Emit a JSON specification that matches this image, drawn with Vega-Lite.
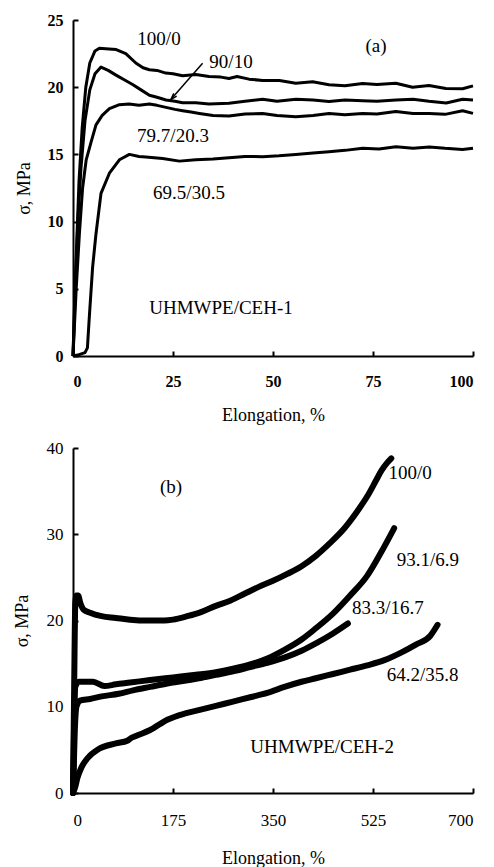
{
  "$schema": "https://vega.github.io/schema/vega-lite/v6.json",
  "background": "white",
  "padding": {"left": 13, "top": 12, "right": 5, "bottom": 5},
  "spacing": 92,
  "bounds": "flush",
  "config": {
    "view": {"stroke": null},
    "font": "Liberation Serif, DejaVu Serif, serif",
    "text": {"font": "Liberation Serif, DejaVu Serif, serif"},
    "axis": {
      "grid": false,
      "domainColor": "black",
      "domainWidth": 2,
      "tickColor": "black",
      "tickWidth": 2,
      "tickSize": -5,
      "labelColor": "black",
      "labelFont": "Liberation Serif, DejaVu Serif, serif",
      "titleColor": "black",
      "titleFont": "Liberation Serif, DejaVu Serif, serif",
      "titleFontWeight": "normal",
      "titleFontSize": 18
    }
  },
  "datasets": {
    "top": [
      {"s": "100/0", "x": 0, "y": 0}, {"s": "100/0", "x": 0.5, "y": 5}, {"s": "100/0", "x": 1, "y": 9}, {"s": "100/0", "x": 1.5, "y": 13}, {"s": "100/0", "x": 2.3, "y": 17}, {"s": "100/0", "x": 3.2, "y": 20}, {"s": "100/0", "x": 4.2, "y": 21.8}, {"s": "100/0", "x": 5.5, "y": 22.7}, {"s": "100/0", "x": 6.6, "y": 22.9}, {"s": "100/0", "x": 9, "y": 22.85}, {"s": "100/0", "x": 10.8, "y": 22.8}, {"s": "100/0", "x": 13.2, "y": 22.5}, {"s": "100/0", "x": 15.7, "y": 21.8}, {"s": "100/0", "x": 17.5, "y": 21.45}, {"s": "100/0", "x": 19.1, "y": 21.3}, {"s": "100/0", "x": 21, "y": 21.25}, {"s": "100/0", "x": 23.2, "y": 21.05}, {"s": "100/0", "x": 25, "y": 21.0}, {"s": "100/0", "x": 27.4, "y": 20.85}, {"s": "100/0", "x": 30.7, "y": 20.95}, {"s": "100/0", "x": 34, "y": 20.8}, {"s": "100/0", "x": 37, "y": 20.75}, {"s": "100/0", "x": 39, "y": 20.65}, {"s": "100/0", "x": 41, "y": 20.8}, {"s": "100/0", "x": 44, "y": 20.6}, {"s": "100/0", "x": 47.4, "y": 20.5}, {"s": "100/0", "x": 51.6, "y": 20.5}, {"s": "100/0", "x": 55.7, "y": 20.3}, {"s": "100/0", "x": 59.9, "y": 20.4}, {"s": "100/0", "x": 64, "y": 20.18}, {"s": "100/0", "x": 68, "y": 20.1}, {"s": "100/0", "x": 72.4, "y": 20.28}, {"s": "100/0", "x": 76, "y": 20.2}, {"s": "100/0", "x": 80.7, "y": 20.3}, {"s": "100/0", "x": 84.9, "y": 20.0}, {"s": "100/0", "x": 89, "y": 20.12}, {"s": "100/0", "x": 93.2, "y": 19.9}, {"s": "100/0", "x": 97.4, "y": 19.88}, {"s": "100/0", "x": 100, "y": 20.1},
      {"s": "90/10", "x": 0, "y": 0}, {"s": "90/10", "x": 0.6, "y": 5}, {"s": "90/10", "x": 1.2, "y": 10}, {"s": "90/10", "x": 2, "y": 14}, {"s": "90/10", "x": 3, "y": 17.5}, {"s": "90/10", "x": 4.2, "y": 19.8}, {"s": "90/10", "x": 5.5, "y": 21.0}, {"s": "90/10", "x": 7, "y": 21.5}, {"s": "90/10", "x": 8.8, "y": 21.25}, {"s": "90/10", "x": 10.75, "y": 20.9}, {"s": "90/10", "x": 12.8, "y": 20.55}, {"s": "90/10", "x": 14.9, "y": 20.2}, {"s": "90/10", "x": 17, "y": 19.8}, {"s": "90/10", "x": 19.1, "y": 19.4}, {"s": "90/10", "x": 21, "y": 19.25}, {"s": "90/10", "x": 23.25, "y": 19.05}, {"s": "90/10", "x": 25.5, "y": 18.95}, {"s": "90/10", "x": 27.4, "y": 18.85}, {"s": "90/10", "x": 30.7, "y": 18.85}, {"s": "90/10", "x": 34, "y": 18.75}, {"s": "90/10", "x": 39, "y": 18.8}, {"s": "90/10", "x": 43, "y": 18.95}, {"s": "90/10", "x": 47.4, "y": 19.1}, {"s": "90/10", "x": 51, "y": 18.95}, {"s": "90/10", "x": 55.75, "y": 19.1}, {"s": "90/10", "x": 60, "y": 19.05}, {"s": "90/10", "x": 64, "y": 18.93}, {"s": "90/10", "x": 68, "y": 19.05}, {"s": "90/10", "x": 72.4, "y": 19.0}, {"s": "90/10", "x": 76, "y": 18.95}, {"s": "90/10", "x": 80.75, "y": 19.05}, {"s": "90/10", "x": 85, "y": 19.1}, {"s": "90/10", "x": 89, "y": 18.95}, {"s": "90/10", "x": 93.3, "y": 18.82}, {"s": "90/10", "x": 97.4, "y": 19.1}, {"s": "90/10", "x": 100, "y": 19.05},
      {"s": "79.7/20.3", "x": 0, "y": 0}, {"s": "79.7/20.3", "x": 0.8, "y": 5}, {"s": "79.7/20.3", "x": 1.6, "y": 9.1}, {"s": "79.7/20.3", "x": 2.4, "y": 12.5}, {"s": "79.7/20.3", "x": 3.3, "y": 14.6}, {"s": "79.7/20.3", "x": 4.5, "y": 15.9}, {"s": "79.7/20.3", "x": 5.75, "y": 17.2}, {"s": "79.7/20.3", "x": 7.3, "y": 17.9}, {"s": "79.7/20.3", "x": 9.1, "y": 18.4}, {"s": "79.7/20.3", "x": 11.6, "y": 18.7}, {"s": "79.7/20.3", "x": 14, "y": 18.75}, {"s": "79.7/20.3", "x": 16.5, "y": 18.65}, {"s": "79.7/20.3", "x": 19.1, "y": 18.75}, {"s": "79.7/20.3", "x": 21, "y": 18.65}, {"s": "79.7/20.3", "x": 23.25, "y": 18.5}, {"s": "79.7/20.3", "x": 25.5, "y": 18.35}, {"s": "79.7/20.3", "x": 27.4, "y": 18.25}, {"s": "79.7/20.3", "x": 29.5, "y": 18.15}, {"s": "79.7/20.3", "x": 31.6, "y": 18.05}, {"s": "79.7/20.3", "x": 35, "y": 17.9}, {"s": "79.7/20.3", "x": 39, "y": 17.85}, {"s": "79.7/20.3", "x": 43, "y": 18.0}, {"s": "79.7/20.3", "x": 47.4, "y": 18.05}, {"s": "79.7/20.3", "x": 51, "y": 17.9}, {"s": "79.7/20.3", "x": 55.7, "y": 17.8}, {"s": "79.7/20.3", "x": 60, "y": 17.9}, {"s": "79.7/20.3", "x": 64, "y": 18.05}, {"s": "79.7/20.3", "x": 68, "y": 17.95}, {"s": "79.7/20.3", "x": 72.4, "y": 18.05}, {"s": "79.7/20.3", "x": 76, "y": 18.0}, {"s": "79.7/20.3", "x": 80.7, "y": 18.2}, {"s": "79.7/20.3", "x": 85, "y": 18.05}, {"s": "79.7/20.3", "x": 89, "y": 18.05}, {"s": "79.7/20.3", "x": 93, "y": 17.98}, {"s": "79.7/20.3", "x": 97.4, "y": 18.25}, {"s": "79.7/20.3", "x": 100, "y": 18.05},
      {"s": "69.5/30.5", "x": 0, "y": 0}, {"s": "69.5/30.5", "x": 1.5, "y": 0.1}, {"s": "69.5/30.5", "x": 3.0, "y": 0.25}, {"s": "69.5/30.5", "x": 3.6, "y": 0.6}, {"s": "69.5/30.5", "x": 4.1, "y": 3}, {"s": "69.5/30.5", "x": 4.9, "y": 6.6}, {"s": "69.5/30.5", "x": 5.75, "y": 9.1}, {"s": "69.5/30.5", "x": 7, "y": 12.1}, {"s": "69.5/30.5", "x": 9.1, "y": 13.6}, {"s": "69.5/30.5", "x": 11.6, "y": 14.6}, {"s": "69.5/30.5", "x": 14.1, "y": 15.0}, {"s": "69.5/30.5", "x": 16.5, "y": 14.85}, {"s": "69.5/30.5", "x": 18.2, "y": 14.8}, {"s": "69.5/30.5", "x": 22.4, "y": 14.7}, {"s": "69.5/30.5", "x": 26.6, "y": 14.5}, {"s": "69.5/30.5", "x": 30.7, "y": 14.6}, {"s": "69.5/30.5", "x": 35, "y": 14.65}, {"s": "69.5/30.5", "x": 39, "y": 14.75}, {"s": "69.5/30.5", "x": 43, "y": 14.85}, {"s": "69.5/30.5", "x": 47.4, "y": 14.83}, {"s": "69.5/30.5", "x": 51.5, "y": 14.9}, {"s": "69.5/30.5", "x": 55.7, "y": 15.0}, {"s": "69.5/30.5", "x": 60, "y": 15.1}, {"s": "69.5/30.5", "x": 64, "y": 15.2}, {"s": "69.5/30.5", "x": 68, "y": 15.3}, {"s": "69.5/30.5", "x": 72.4, "y": 15.45}, {"s": "69.5/30.5", "x": 76.5, "y": 15.4}, {"s": "69.5/30.5", "x": 80.75, "y": 15.57}, {"s": "69.5/30.5", "x": 85, "y": 15.45}, {"s": "69.5/30.5", "x": 89.1, "y": 15.55}, {"s": "69.5/30.5", "x": 93, "y": 15.45}, {"s": "69.5/30.5", "x": 97.4, "y": 15.37}, {"s": "69.5/30.5", "x": 100, "y": 15.45}
    ],
    "topLab": [
      {"x": 21.5, "y": 23.6, "t": "100/0"},
      {"x": 75.75, "y": 23.1, "t": "(a)"},
      {"x": 39.5, "y": 21.9, "t": "90/10"},
      {"x": 25, "y": 16.4, "t": "79.7/20.3"},
      {"x": 29, "y": 12.1, "t": "69.5/30.5"},
      {"x": 37, "y": 3.6, "t": "UHMWPE/CEH-1"}
    ],
    "arrow": [
      {"x": 32.4, "y": 21.78, "p": "start"},
      {"x": 24.5, "y": 19.1, "p": "tip"}
    ],
    "bot": [
      {"s": "100/0", "x": 0, "y": 0}, {"s": "100/0", "x": 2, "y": 12}, {"s": "100/0", "x": 4, "y": 22}, {"s": "100/0", "x": 6, "y": 22.9}, {"s": "100/0", "x": 9, "y": 22.9}, {"s": "100/0", "x": 13, "y": 22.0}, {"s": "100/0", "x": 18, "y": 21.3}, {"s": "100/0", "x": 30, "y": 20.9}, {"s": "100/0", "x": 50, "y": 20.5}, {"s": "100/0", "x": 75, "y": 20.3}, {"s": "100/0", "x": 100, "y": 20.1}, {"s": "100/0", "x": 130, "y": 20.0}, {"s": "100/0", "x": 160, "y": 20.0}, {"s": "100/0", "x": 175, "y": 20.1}, {"s": "100/0", "x": 200, "y": 20.5}, {"s": "100/0", "x": 225, "y": 21.0}, {"s": "100/0", "x": 250, "y": 21.7}, {"s": "100/0", "x": 275, "y": 22.3}, {"s": "100/0", "x": 300, "y": 23.1}, {"s": "100/0", "x": 325, "y": 23.9}, {"s": "100/0", "x": 350, "y": 24.6}, {"s": "100/0", "x": 375, "y": 25.4}, {"s": "100/0", "x": 400, "y": 26.3}, {"s": "100/0", "x": 425, "y": 27.5}, {"s": "100/0", "x": 450, "y": 29.0}, {"s": "100/0", "x": 475, "y": 30.7}, {"s": "100/0", "x": 500, "y": 32.9}, {"s": "100/0", "x": 515, "y": 34.4}, {"s": "100/0", "x": 530, "y": 36.2}, {"s": "100/0", "x": 540, "y": 37.4}, {"s": "100/0", "x": 550, "y": 38.3}, {"s": "100/0", "x": 557, "y": 38.8},
      {"s": "93.1/6.9", "x": 0, "y": 0}, {"s": "93.1/6.9", "x": 2, "y": 8}, {"s": "93.1/6.9", "x": 4, "y": 12.3}, {"s": "93.1/6.9", "x": 10, "y": 12.9}, {"s": "93.1/6.9", "x": 35, "y": 12.9}, {"s": "93.1/6.9", "x": 55, "y": 12.4}, {"s": "93.1/6.9", "x": 75, "y": 12.6}, {"s": "93.1/6.9", "x": 100, "y": 12.8}, {"s": "93.1/6.9", "x": 135, "y": 13.1}, {"s": "93.1/6.9", "x": 175, "y": 13.4}, {"s": "93.1/6.9", "x": 215, "y": 13.7}, {"s": "93.1/6.9", "x": 250, "y": 14.0}, {"s": "93.1/6.9", "x": 280, "y": 14.4}, {"s": "93.1/6.9", "x": 310, "y": 14.9}, {"s": "93.1/6.9", "x": 340, "y": 15.6}, {"s": "93.1/6.9", "x": 370, "y": 16.6}, {"s": "93.1/6.9", "x": 400, "y": 17.8}, {"s": "93.1/6.9", "x": 425, "y": 19.1}, {"s": "93.1/6.9", "x": 455, "y": 20.8}, {"s": "93.1/6.9", "x": 485, "y": 22.9}, {"s": "93.1/6.9", "x": 515, "y": 25.2}, {"s": "93.1/6.9", "x": 540, "y": 28.0}, {"s": "93.1/6.9", "x": 562, "y": 30.7},
      {"s": "83.3/16.7", "x": 0, "y": 0}, {"s": "83.3/16.7", "x": 3, "y": 7}, {"s": "83.3/16.7", "x": 6, "y": 10.0}, {"s": "83.3/16.7", "x": 12, "y": 10.7}, {"s": "83.3/16.7", "x": 30, "y": 10.9}, {"s": "83.3/16.7", "x": 50, "y": 11.2}, {"s": "83.3/16.7", "x": 80, "y": 11.5}, {"s": "83.3/16.7", "x": 105, "y": 11.9}, {"s": "83.3/16.7", "x": 135, "y": 12.3}, {"s": "83.3/16.7", "x": 165, "y": 12.7}, {"s": "83.3/16.7", "x": 195, "y": 13.0}, {"s": "83.3/16.7", "x": 220, "y": 13.3}, {"s": "83.3/16.7", "x": 250, "y": 13.7}, {"s": "83.3/16.7", "x": 280, "y": 14.1}, {"s": "83.3/16.7", "x": 310, "y": 14.6}, {"s": "83.3/16.7", "x": 340, "y": 15.1}, {"s": "83.3/16.7", "x": 370, "y": 15.7}, {"s": "83.3/16.7", "x": 400, "y": 16.5}, {"s": "83.3/16.7", "x": 425, "y": 17.35}, {"s": "83.3/16.7", "x": 455, "y": 18.5}, {"s": "83.3/16.7", "x": 481, "y": 19.65},
      {"s": "64.2/35.8", "x": 0, "y": 0}, {"s": "64.2/35.8", "x": 3, "y": 0.5}, {"s": "64.2/35.8", "x": 8, "y": 1.8}, {"s": "64.2/35.8", "x": 15, "y": 3.0}, {"s": "64.2/35.8", "x": 25, "y": 4.0}, {"s": "64.2/35.8", "x": 45, "y": 5.1}, {"s": "64.2/35.8", "x": 75, "y": 5.75}, {"s": "64.2/35.8", "x": 95, "y": 6.06}, {"s": "64.2/35.8", "x": 100, "y": 6.3}, {"s": "64.2/35.8", "x": 110, "y": 6.6}, {"s": "64.2/35.8", "x": 135, "y": 7.3}, {"s": "64.2/35.8", "x": 165, "y": 8.5}, {"s": "64.2/35.8", "x": 195, "y": 9.2}, {"s": "64.2/35.8", "x": 220, "y": 9.6}, {"s": "64.2/35.8", "x": 250, "y": 10.1}, {"s": "64.2/35.8", "x": 280, "y": 10.6}, {"s": "64.2/35.8", "x": 310, "y": 11.1}, {"s": "64.2/35.8", "x": 340, "y": 11.6}, {"s": "64.2/35.8", "x": 370, "y": 12.3}, {"s": "64.2/35.8", "x": 400, "y": 12.9}, {"s": "64.2/35.8", "x": 425, "y": 13.3}, {"s": "64.2/35.8", "x": 455, "y": 13.8}, {"s": "64.2/35.8", "x": 485, "y": 14.3}, {"s": "64.2/35.8", "x": 515, "y": 14.8}, {"s": "64.2/35.8", "x": 545, "y": 15.4}, {"s": "64.2/35.8", "x": 575, "y": 16.3}, {"s": "64.2/35.8", "x": 600, "y": 17.2}, {"s": "64.2/35.8", "x": 625, "y": 18.2}, {"s": "64.2/35.8", "x": 638, "y": 19.5}
    ],
    "botLab": [
      {"x": 590, "y": 37.1, "t": "100/0"},
      {"x": 171.5, "y": 35.5, "t": "(b)"},
      {"x": 621, "y": 27.0, "t": "93.1/6.9"},
      {"x": 551, "y": 21.4, "t": "83.3/16.7"},
      {"x": 612, "y": 13.7, "t": "64.2/35.8"},
      {"x": 436, "y": 5.3, "t": "UHMWPE/CEH-2"}
    ]
  },
  "vconcat": [
    {
      "width": 400,
      "height": 336,
      "layer": [
        {
          "data": {"name": "top"},
          "mark": {"type": "line", "color": "black", "strokeWidth": 3, "strokeJoin": "round"},
          "encoding": {
            "x": {"field": "x", "type": "quantitative", "scale": {"domain": [0, 100], "nice": false},
              "axis": {"values": [0, 25, 50, 75, 100], "title": "Elongation, %", "labelFontWeight": "bold", "labelFontSize": 16, "labelPadding": 22, "titlePadding": 17}},
            "y": {"field": "y", "type": "quantitative", "scale": {"domain": [0, 25], "nice": false},
              "axis": {"values": [0, 5, 10, 15, 20, 25], "title": "σ, MPa", "labelFontWeight": "bold", "labelFontSize": 16, "labelPadding": 15, "titlePadding": 14}},
            "detail": {"field": "s"}
          }
        },
        {
          "data": {"name": "topLab"},
          "mark": {"type": "text", "font": "Liberation Serif, DejaVu Serif, serif", "fontSize": 19, "color": "black"},
          "encoding": {
            "x": {"field": "x", "type": "quantitative"},
            "y": {"field": "y", "type": "quantitative"},
            "text": {"field": "t"}
          }
        },
        {
          "data": {"name": "arrow"},
          "mark": {"type": "line", "color": "black", "strokeWidth": 1.5},
          "encoding": {
            "x": {"field": "x", "type": "quantitative"},
            "y": {"field": "y", "type": "quantitative"}
          }
        },
        {
          "data": {"name": "arrow"},
          "transform": [{"filter": "datum.p === 'tip'"}],
          "mark": {"type": "point", "shape": "M -0.5 1.6 L 0 0 L 0.5 1.6", "filled": false, "stroke": "black", "strokeWidth": 1.5, "size": 60, "angle": 223, "opacity": 1},
          "encoding": {
            "x": {"field": "x", "type": "quantitative"},
            "y": {"field": "y", "type": "quantitative"}
          }
        }
      ]
    },
    {
      "width": 400,
      "height": 345,
      "layer": [
        {
          "data": {"name": "bot"},
          "mark": {"type": "line", "color": "black", "strokeJoin": "round", "strokeCap": "round", "interpolate": "monotone"},
          "encoding": {
            "x": {"field": "x", "type": "quantitative", "scale": {"domain": [0, 700], "nice": false},
              "axis": {"values": [0, 175, 350, 525, 700], "title": "Elongation, %", "labelFontSize": 17, "labelPadding": 24, "titlePadding": 21}},
            "y": {"field": "y", "type": "quantitative", "scale": {"domain": [0, 40], "nice": false},
              "axis": {"values": [0, 10, 20, 30, 40], "title": "σ, MPa", "labelFontSize": 17, "labelPadding": 15, "titlePadding": 15}},
            "detail": {"field": "s"},
            "strokeWidth": {"field": "s", "type": "nominal", "legend": null,
              "scale": {"domain": ["100/0", "93.1/6.9", "83.3/16.7", "64.2/35.8"], "range": [6, 6, 5, 3.5]}}
          }
        },
        {
          "data": {"name": "botLab"},
          "mark": {"type": "text", "font": "Liberation Serif, DejaVu Serif, serif", "fontSize": 19, "color": "black"},
          "encoding": {
            "x": {"field": "x", "type": "quantitative"},
            "y": {"field": "y", "type": "quantitative"},
            "text": {"field": "t"}
          }
        }
      ]
    }
  ]
}
